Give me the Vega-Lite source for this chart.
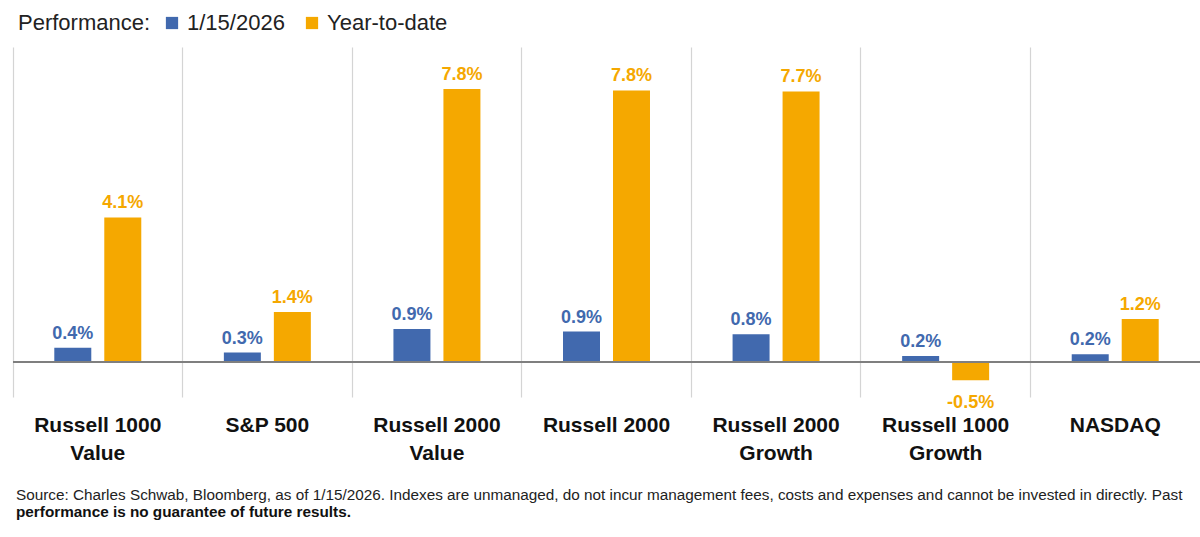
{
  "$schema": "https://vega.github.io/schema/vega-lite/v6.json",
  "autosize": {"type": "none"},
  "width": 1187,
  "height": 350,
  "padding": {"left": 13, "top": 47, "right": 0, "bottom": 140},
  "background": "white",
  "config": {
    "font": "Liberation Sans",
    "view": {"stroke": null}
  },
  "title": {
    "text": "Source: Charles Schwab, Bloomberg, as of 1/15/2026.  Indexes are unmanaged, do not incur management fees, costs and expenses and cannot be invested in directly. Past",
    "subtitle": "performance is no guarantee of future results.",
    "orient": "bottom",
    "anchor": "start",
    "frame": "group",
    "offset": 25,
    "dx": 3,
    "fontSize": 15.3,
    "fontWeight": "normal",
    "color": "#222222",
    "subtitleFontSize": 15.3,
    "subtitleFontWeight": "bold",
    "subtitleColor": "#111111",
    "subtitlePadding": 2
  },
  "data": {
    "values": [
      {"index": "Russell 1000 Value", "series": "1/15/2026", "value": 0.41},
      {"index": "Russell 1000 Value", "series": "Year-to-date", "value": 4.13},
      {"index": "S&P 500", "series": "1/15/2026", "value": 0.27},
      {"index": "S&P 500", "series": "Year-to-date", "value": 1.43},
      {"index": "Russell 2000 Value", "series": "1/15/2026", "value": 0.94},
      {"index": "Russell 2000 Value", "series": "Year-to-date", "value": 7.8},
      {"index": "Russell 2000", "series": "1/15/2026", "value": 0.87},
      {"index": "Russell 2000", "series": "Year-to-date", "value": 7.76},
      {"index": "Russell 2000 Growth", "series": "1/15/2026", "value": 0.79},
      {"index": "Russell 2000 Growth", "series": "Year-to-date", "value": 7.73},
      {"index": "Russell 1000 Growth", "series": "1/15/2026", "value": 0.17},
      {"index": "Russell 1000 Growth", "series": "Year-to-date", "value": -0.52},
      {"index": "NASDAQ", "series": "1/15/2026", "value": 0.22},
      {"index": "NASDAQ", "series": "Year-to-date", "value": 1.23}
    ]
  },
  "encoding": {
    "x": {
      "field": "index",
      "type": "nominal",
      "sort": null,
      "scale": {"paddingInner": 0, "paddingOuter": 0},
      "axis": {
        "title": null,
        "orient": "bottom",
        "domain": false,
        "ticks": false,
        "grid": true,
        "bandPosition": 0,
        "gridColor": "#d4d4d4",
        "gridWidth": 1.2,
        "labelAngle": 0,
        "labelFontSize": 21,
        "labelFontWeight": "bold",
        "labelColor": "#111111",
        "labelPadding": 17,
        "labelLineHeight": 28,
        "labelBaseline": "top",
        "labelExpr": "indexof(datum.label, 'Russell') == 0 ? [slice(datum.label, 0, 12), slice(datum.label, 13)] : datum.label"
      }
    },
    "xOffset": {
      "field": "series",
      "type": "nominal",
      "scale": {"paddingInner": 0.26, "paddingOuter": 0.826}
    },
    "y": {
      "field": "value",
      "type": "quantitative",
      "scale": {"domain": [-1, 9], "nice": false, "zero": false},
      "axis": null
    },
    "color": {
      "field": "series",
      "type": "nominal",
      "scale": {"domain": ["1/15/2026", "Year-to-date"], "range": ["#4169AE", "#F5A800"]}
    }
  },
  "layer": [
    {
      "mark": {"type": "bar"},
      "encoding": {
        "color": {
          "field": "series",
          "type": "nominal",
          "legend": {
            "title": "Performance:",
            "orient": "none",
            "legendX": 5,
            "legendY": -35,
            "direction": "horizontal",
            "titleOrient": "left",
            "titleFontSize": 22,
            "titleFontWeight": "normal",
            "titleColor": "#222222",
            "titlePadding": 10,
            "titleBaseline": "middle",
            "labelFontSize": 22,
            "labelColor": "#222222",
            "symbolType": "square",
            "symbolSize": 150,
            "symbolStrokeWidth": 0,
            "labelOffset": 4,
            "columnPadding": 16
          }
        }
      }
    },
    {
      "transform": [
        {"filter": "datum.value >= 0"},
        {"calculate": "replace(format(datum.value, '.1f'), '\u2212', '-') + '%'", "as": "label"}
      ],
      "mark": {"type": "text", "baseline": "alphabetic", "dy": -9, "fontSize": 18, "fontWeight": "bold"},
      "encoding": {
        "text": {"field": "label", "type": "nominal"},
        "color": {"field": "series", "type": "nominal", "legend": null}
      }
    },
    {
      "transform": [
        {"filter": "datum.value < 0"},
        {"calculate": "replace(format(datum.value, '.1f'), '\u2212', '-') + '%'", "as": "label"}
      ],
      "mark": {"type": "text", "baseline": "top", "dy": 14, "fontSize": 18, "fontWeight": "bold"},
      "encoding": {
        "text": {"field": "label", "type": "nominal"},
        "color": {"field": "series", "type": "nominal", "legend": null}
      }
    },
    {
      "mark": {"type": "rule", "color": "#7f7f7f", "strokeWidth": 2},
      "encoding": {"y": {"datum": 0}, "x": null, "xOffset": null, "color": null}
    }
  ]
}
